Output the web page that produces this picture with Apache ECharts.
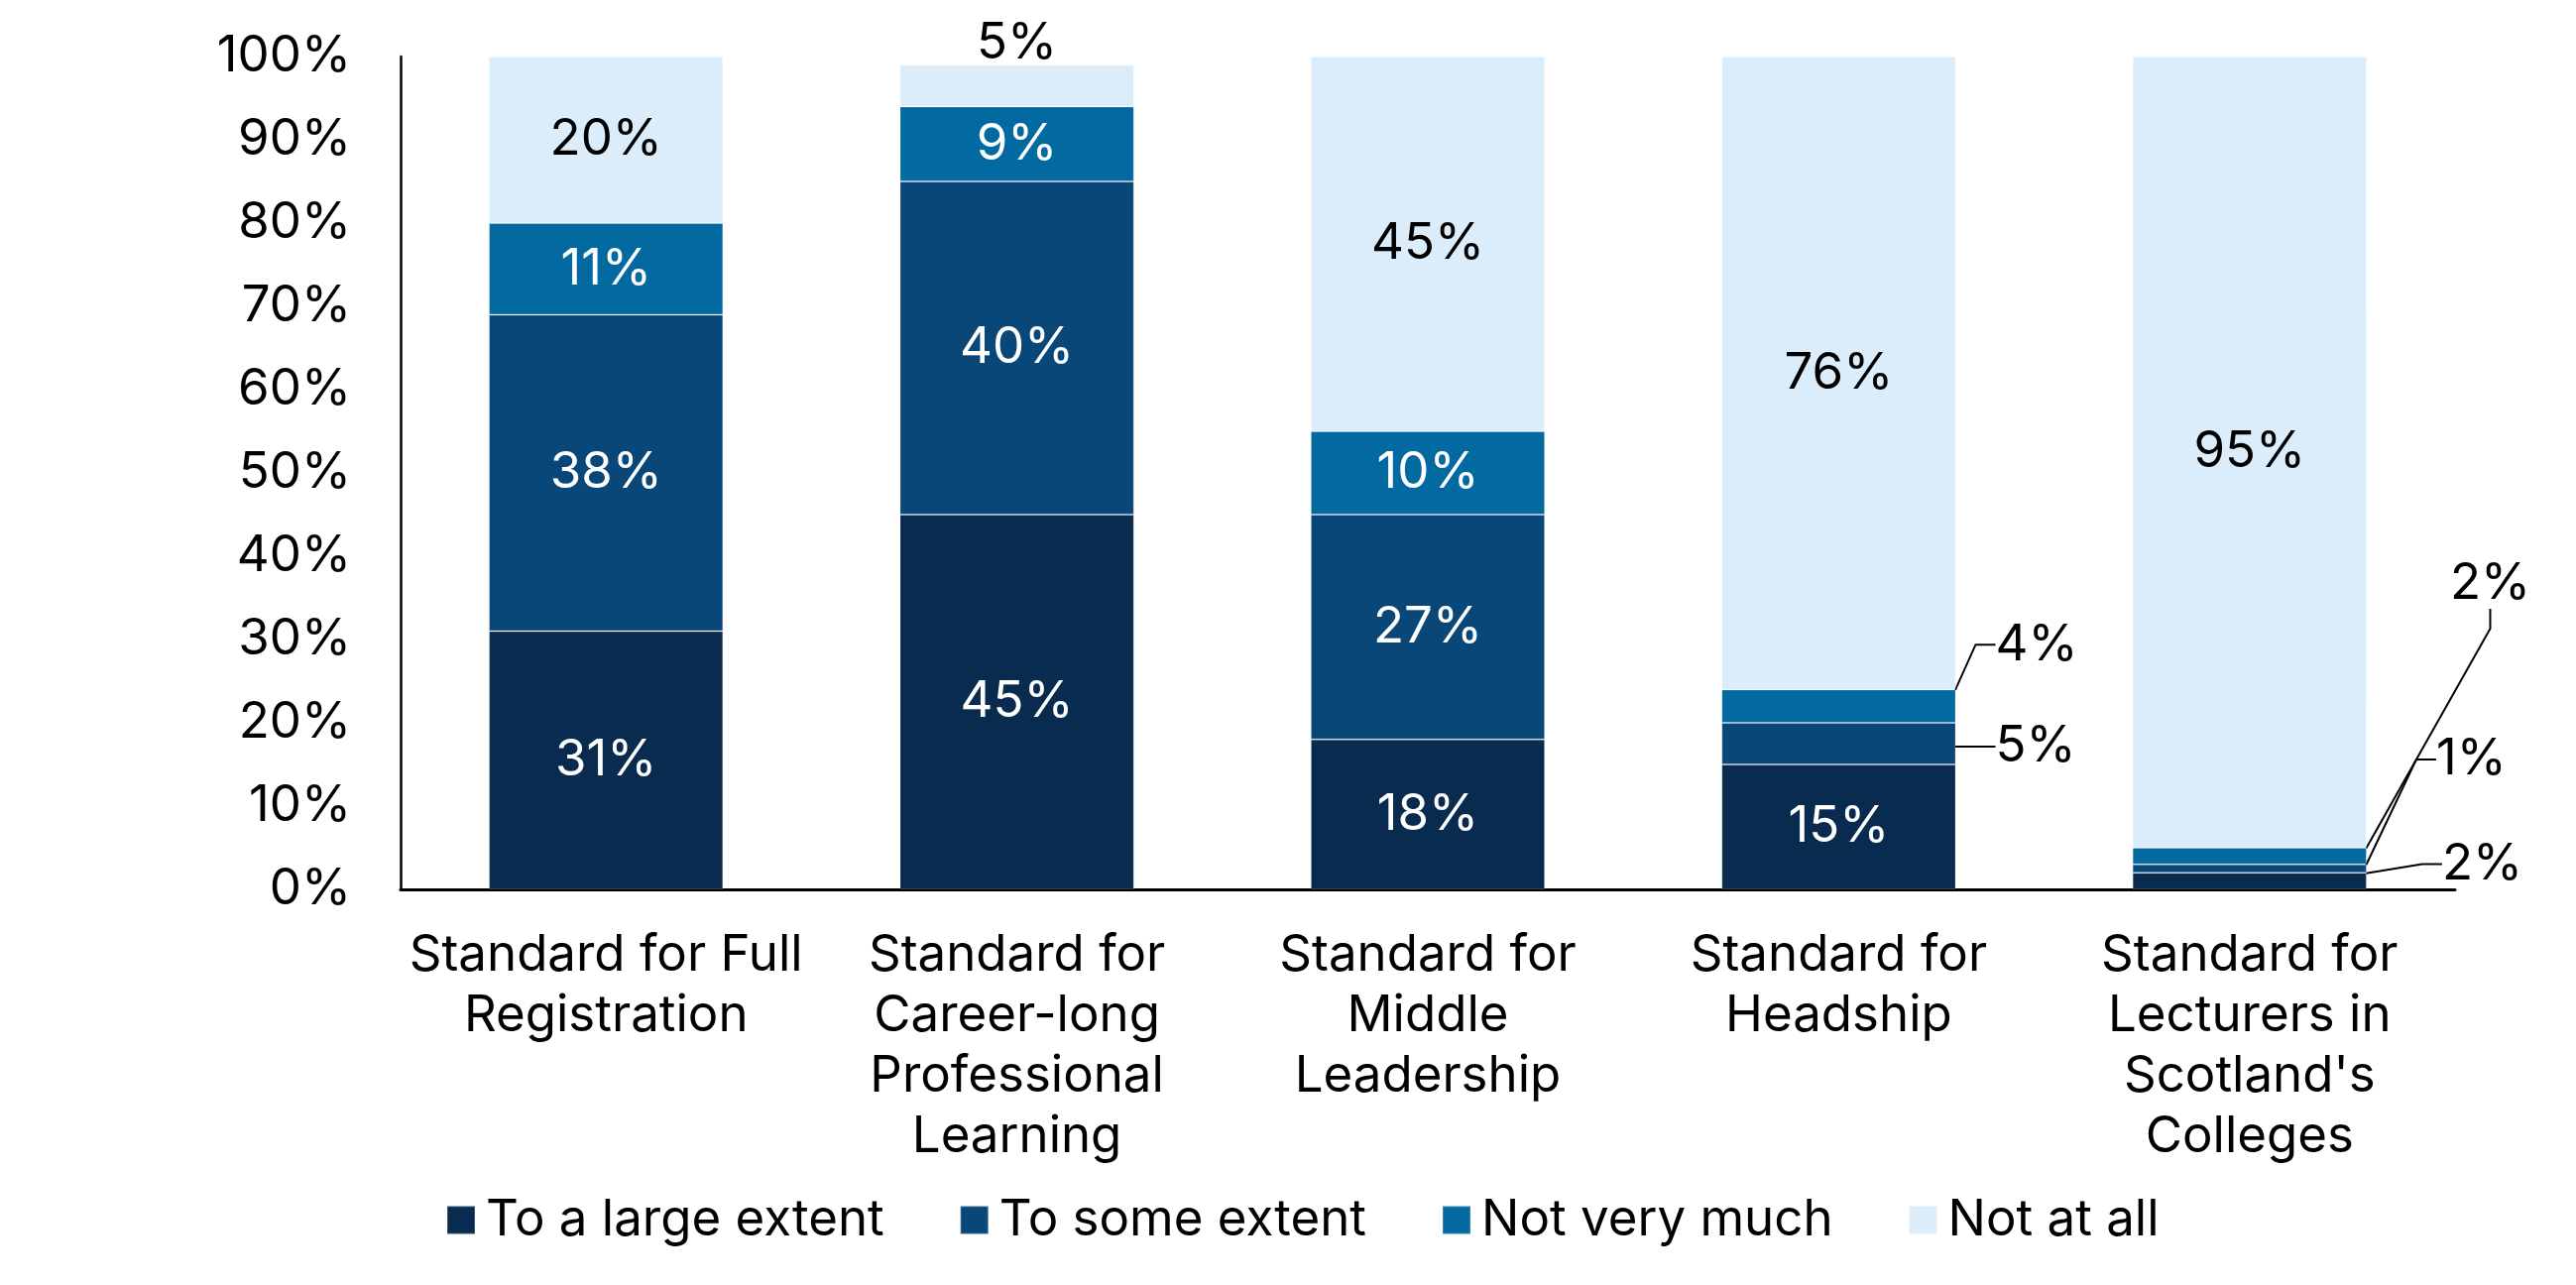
<!DOCTYPE html>
<html>
<head>
<meta charset="utf-8">
<script src="https://cdn.jsdelivr.net/npm/echarts@6/dist/echarts.min.js"></script>
<style>
html,body{margin:0;padding:0;background:#ffffff;}
#chart{width:2598px;height:1296px;}
</style>
</head>
<body>
<div id="chart"></div>
<script>
// ---- data ----
const categories = [
  "Standard for Full\nRegistration",
  "Standard for\nCareer-long\nProfessional\nLearning",
  "Standard for\nMiddle\nLeadership",
  "Standard for\nHeadship",
  "Standard for\nLecturers in\nScotland's\nColleges"
];
const seriesNames = ["To a large extent", "To some extent", "Not very much", "Not at all"];
const largeExtent = [31, 45, 18, 15, 2];
const someExtent  = [38, 40, 27, 5, 1];
const notVeryMuch = [11, 9, 10, 4, 2];
const notAtAll    = [20, 5, 45, 76, 95];

// ---- styles ----
const FONT = "Inter";
const FS = 51;
const colors = ["#082B4F", "#0A4779", "#036AA1", "#DBEDFA"];
const labelColors = ["#ffffff", "#ffffff", "#ffffff", "#000000"];
// outside labels with leader lines: [seriesIndex][dataIndex] -> offset from segment's right edge / centre
const outside = {
  0: { 4: { dx: 60, dy: -17 } },
  1: { 3: { dx: 24, dy: 3 }, 4: { dx: 54, dy: -110 } },
  2: { 3: { dx: 24, dy: -62 }, 4: { dx: 68, dy: -275 } }
};
// label above bar
const aboveBar = { 3: { 1: true } };

const seriesValues = [largeExtent, someExtent, notVeryMuch, notAtAll];

const series = seriesValues.map(function (vals, si) {
  return {
    name: seriesNames[si],
    type: "bar",
    stack: "total",
    barCategoryGap: "43%",
    itemStyle: { color: colors[si], borderColor: "rgba(255,255,255,0.2)", borderWidth: 1 },
    label: {
      show: true,
      position: "inside",
      formatter: "{c}%",
      color: labelColors[si],
      fontFamily: FONT,
      fontSize: FS
    },
    labelLine: { show: false, length2: 20, lineStyle: { color: "#000000", width: 2 } },
    labelLayout: function (p) {
      const o = outside[si] && outside[si][p.dataIndex];
      if (!o) return {};
      return {
        x: p.rect.x + p.rect.width + o.dx,
        y: p.rect.y + p.rect.height / 2 + o.dy,
        align: "left",
        verticalAlign: "middle"
      };
    },
    data: vals.map(function (v, di) {
      const o = outside[si] && outside[si][di];
      if (o) {
        return {
          value: v,
          label: { color: "#000000", padding: [0, 0, 0, 16] },
          labelLine: { show: true, length2: 20, lineStyle: { color: "#000000", width: 2 } }
        };
      }
      if (aboveBar[si] && aboveBar[si][di]) {
        return { value: v, label: { position: "top", distance: -4, color: "#000000" } };
      }
      return v;
    })
  };
});

const chart = echarts.init(document.getElementById("chart"), null, { renderer: "canvas" });
chart.setOption({
  animation: false,
  backgroundColor: "#ffffff",
  textStyle: { fontFamily: FONT },
  grid: { left: 404, right: 122, top: 57, bottom: 399, containLabel: false, outerBoundsMode: "none" },
  legend: {
    data: seriesNames,
    left: 445,
    top: 1200,
    icon: "rect",
    itemWidth: 28,
    itemHeight: 28,
    itemGap: 76,
    textStyle: { fontFamily: FONT, fontSize: FS, color: "#000000", padding: [0, 0, 0, 6], lineHeight: 51 }
  },
  xAxis: {
    type: "category",
    data: categories,
    axisLine: { show: true, lineStyle: { color: "#000000", width: 3 } },
    axisTick: { show: false },
    axisLabel: {
      interval: 0,
      margin: 36,
      fontFamily: FONT,
      fontSize: FS,
      lineHeight: 61,
      color: "#000000",
      align: "center"
    }
  },
  yAxis: {
    type: "value",
    min: 0,
    max: 100,
    interval: 10,
    axisLine: { show: true, lineStyle: { color: "#000000", width: 2.5 } },
    axisTick: { show: false },
    splitLine: { show: false },
    axisLabel: {
      formatter: "{value}%",
      margin: 50,
      fontFamily: FONT,
      fontSize: FS,
      color: "#000000"
    }
  },
  series: series
});
</script>
</body>
</html>
